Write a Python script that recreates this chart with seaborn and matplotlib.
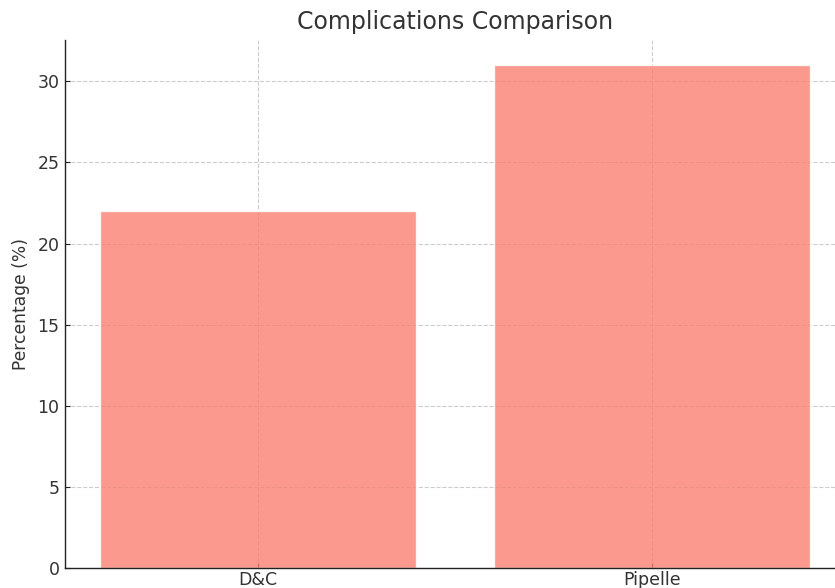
import matplotlib
matplotlib.use("Agg")
import matplotlib.pyplot as plt
import seaborn as sns
import pandas as pd

# Complication rates by procedure
procedures = ["D&C", "Pipelle"]
complication_pct = [22, 31]

df = pd.DataFrame({"Procedure": procedures, "Percentage": complication_pct})

sns.set_theme(style="white")
plt.rcParams["font.family"] = ["DejaVu Sans"]
text_color = "#333333"

fig = plt.figure(figsize=(8.35, 5.88), dpi=100)
ax = fig.add_axes([65 / 835, 20 / 588, 780 / 835, 528 / 588])

sns.barplot(data=df, x="Procedure", y="Percentage", color="salmon",
            alpha=0.8, width=0.8, saturation=1, ax=ax, zorder=2)

ax.set_xlim(-0.49, 1.49)
ax.set_ylim(0, 32.55)
ax.set_yticks([0, 5, 10, 15, 20, 25, 30])

ax.grid(True, linestyle="--", color="#cccccc", linewidth=0.8, zorder=0)
ax.set_axisbelow(True)

for side in ["top", "right"]:
    ax.spines[side].set_visible(False)
for side in ["left", "bottom"]:
    ax.spines[side].set_color("#222222")
    ax.spines[side].set_linewidth(1.0)

ax.tick_params(axis="both", which="both", direction="in", length=3.5,
               width=0.8, colors="#222222", labelsize=12.5,
               labelcolor=text_color, left=True, bottom=True, pad=4)
ax.tick_params(axis="x", pad=2.5)

ax.set_title("Complications Comparison", fontsize=17, color=text_color, pad=8)
ax.set_ylabel("Percentage (%)", fontsize=12.3, color=text_color, labelpad=5)
ax.set_xlabel("")

fig.savefig("out.png", dpi=100)
